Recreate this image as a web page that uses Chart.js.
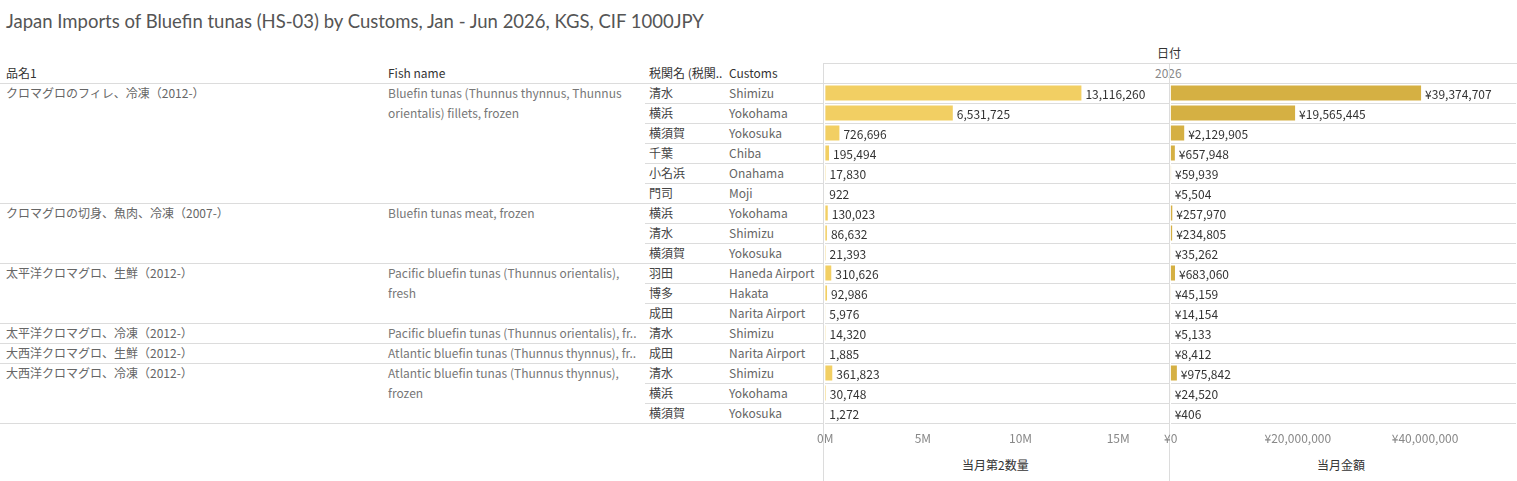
<!DOCTYPE html>
<html><head><meta charset="utf-8">
<script src="https://cdn.jsdelivr.net/npm/chart.js@4"></script>
<style>
body{margin:0;width:1517px;height:481px;overflow:hidden;background:#fff;font-family:"Noto Sans CJK JP","Noto Sans",sans-serif;color:#555;position:relative}
.t{position:absolute;font-size:12px;line-height:20px;white-space:nowrap}
.l{position:absolute;background:#dcdcdc}
canvas{position:absolute}
</style></head><body>
<div class="t" style="left:6px;top:8px;font-size:18.5px;line-height:26px;color:#555;font-family:Lato,'Noto Sans CJK JP'">Japan Imports of Bluefin tunas (HS-03) by Customs, Jan - Jun 2026, KGS, CIF 1000JPY</div>
<div id="tbl"></div>
<canvas id="qty"></canvas>
<canvas id="amt"></canvas>
<script>
// groups: Japanese product name, English fish name, number of customs rows
const productJa = ["クロマグロのフィレ、冷凍（2012-）","クロマグロの切身、魚肉、冷凍（2007-）","太平洋クロマグロ、生鮮（2012-）","太平洋クロマグロ、冷凍（2012-）","大西洋クロマグロ、生鮮（2012-）","大西洋クロマグロ、冷凍（2012-）"];
const fishName = ["Bluefin tunas (Thunnus thynnus, Thunnus<br>orientalis) fillets, frozen","Bluefin tunas meat, frozen","Pacific bluefin tunas (Thunnus orientalis),<br>fresh","Pacific bluefin tunas (Thunnus orientalis), fr..","Atlantic bluefin tunas (Thunnus thynnus), fr..","Atlantic bluefin tunas (Thunnus thynnus),<br>frozen"];
const groupRows = [6,3,3,1,1,3];
const customsJa = ["清水","横浜","横須賀","千葉","小名浜","門司","横浜","清水","横須賀","羽田","博多","成田","清水","成田","清水","横浜","横須賀"];
const customsEn = ["Shimizu","Yokohama","Yokosuka","Chiba","Onahama","Moji","Yokohama","Shimizu","Yokosuka","Haneda Airport","Hakata","Narita Airport","Shimizu","Narita Airport","Shimizu","Yokohama","Yokosuka"];
const quantity = [13116260,6531725,726696,195494,17830,922,130023,86632,21393,310626,92986,5976,14320,1885,361823,30748,1272];
const amount = [39374707,19565445,2129905,657948,59939,5504,257970,234805,35262,683060,45159,14154,5133,8412,975842,24520,406];
const qtyTicks = [0, 5e6, 10e6, 15e6];
const amtTicks = [0, 20e6, 40e6];

const TOP = 83, RH = 20;
let h = '';
const txt = (x, y, s, extra) => h += `<div class="t" style="left:${x}px;top:${y}px;${extra||''}">${s}</div>`;
const line = (x, y, w, hh) => h += `<div class="l" style="left:${x}px;top:${y}px;width:${w}px;height:${hh}px"></div>`;
txt(1157, 43, '日付', 'color:#333');
txt(1155, 63, '2026', 'color:#888');
txt(6, 63, '品名1', 'color:#333'); txt(388, 63, 'Fish name', 'color:#333');
txt(649, 63, '税関名 (税関..', 'color:#333'); txt(729, 63, 'Customs', 'color:#333');
line(0, TOP, 1517, 1); line(823, 63, 694, 1);
let r = 0;
productJa.forEach((p, g) => {
  txt(6, TOP + r * RH, p, 'color:#666');
  h += `<div class="t" style="left:388px;top:${TOP + r * RH}px;color:#777">${fishName[g]}</div>`;
  r += groupRows[g];
  line(0, TOP + r * RH, 823, 1);
});
customsJa.forEach((c, i) => {
  txt(649, TOP + i * RH, c, 'color:#444'); txt(729, TOP + i * RH, customsEn[i], 'color:#666');
  if (i < customsJa.length - 1) line(645, TOP + (i + 1) * RH, 178, 1);
});
line(823, 63, 1, 418); line(1169, 63, 1, 418);
txt(962, 455, '当月第2数量', 'color:#333'); txt(1317, 455, '当月金額', 'color:#333');
document.getElementById('tbl').innerHTML = h;

const valueLabels = {
  id: 'valueLabels',
  afterDatasetsDraw(chart, args, opts) {
    const ctx = chart.ctx;
    ctx.save();
    ctx.font = '12px "Noto Sans CJK JP", "Noto Sans", sans-serif';
    ctx.fillStyle = '#333'; ctx.textBaseline = 'middle';
    chart.getDatasetMeta(0).data.forEach((bar, i) => {
      ctx.fillText(opts.fmt(chart.data.datasets[0].data[i]), bar.x + 4, bar.y + 1);
    });
    ctx.restore();
  }
};

function makeChart(id, left, data, color, max, tickVals, fmt, tickFmt) {
  const c = document.getElementById(id);
  c.style.left = left + 'px'; c.style.top = TOP + 'px';
  c.width = 360; c.height = 398;
  new Chart(c, {
    type: 'bar',
    data: { labels: customsEn.map((e, i) => i), datasets: [{ data: data, backgroundColor: color, barPercentage: 0.75, categoryPercentage: 1 }] },
    options: {
      indexAxis: 'y', responsive: false, animation: false,
      layout: { padding: { left: 14, right: 0, top: 0, bottom: 0 } },
      plugins: { legend: { display: false }, tooltip: { enabled: false }, valueLabels: { fmt: fmt } },
      scales: {
        x: {
          min: 0, max: max,
          grid: { display: false, drawTicks: false }, border: { display: false },
          ticks: { autoSkip: false, maxRotation: 0, padding: 8, color: '#888', font: { size: 12, family: '"Noto Sans CJK JP","Noto Sans"' }, callback: tickFmt },
          afterBuildTicks: s => { s.ticks = tickVals.map(v => ({ value: v })); },
          afterFit: s => { s.height = 58; }
        },
        y: {
          grid: { offset: true, color: '#dcdcdc', drawTicks: false }, border: { display: false },
          ticks: { display: false }, afterFit: s => { s.width = 0; }
        }
      }
    },
    plugins: [valueLabels]
  });
}
makeChart('qty', 809, quantity, '#f2cf63', 17.6e6, qtyTicks, v => v.toLocaleString('en-US'), v => (v / 1e6) + 'M');
makeChart('amt', 1156, amount, '#d5b043', 54.3e6, amtTicks, v => '¥' + v.toLocaleString('en-US'), v => '¥' + v.toLocaleString('en-US'));
</script>
</body></html>
